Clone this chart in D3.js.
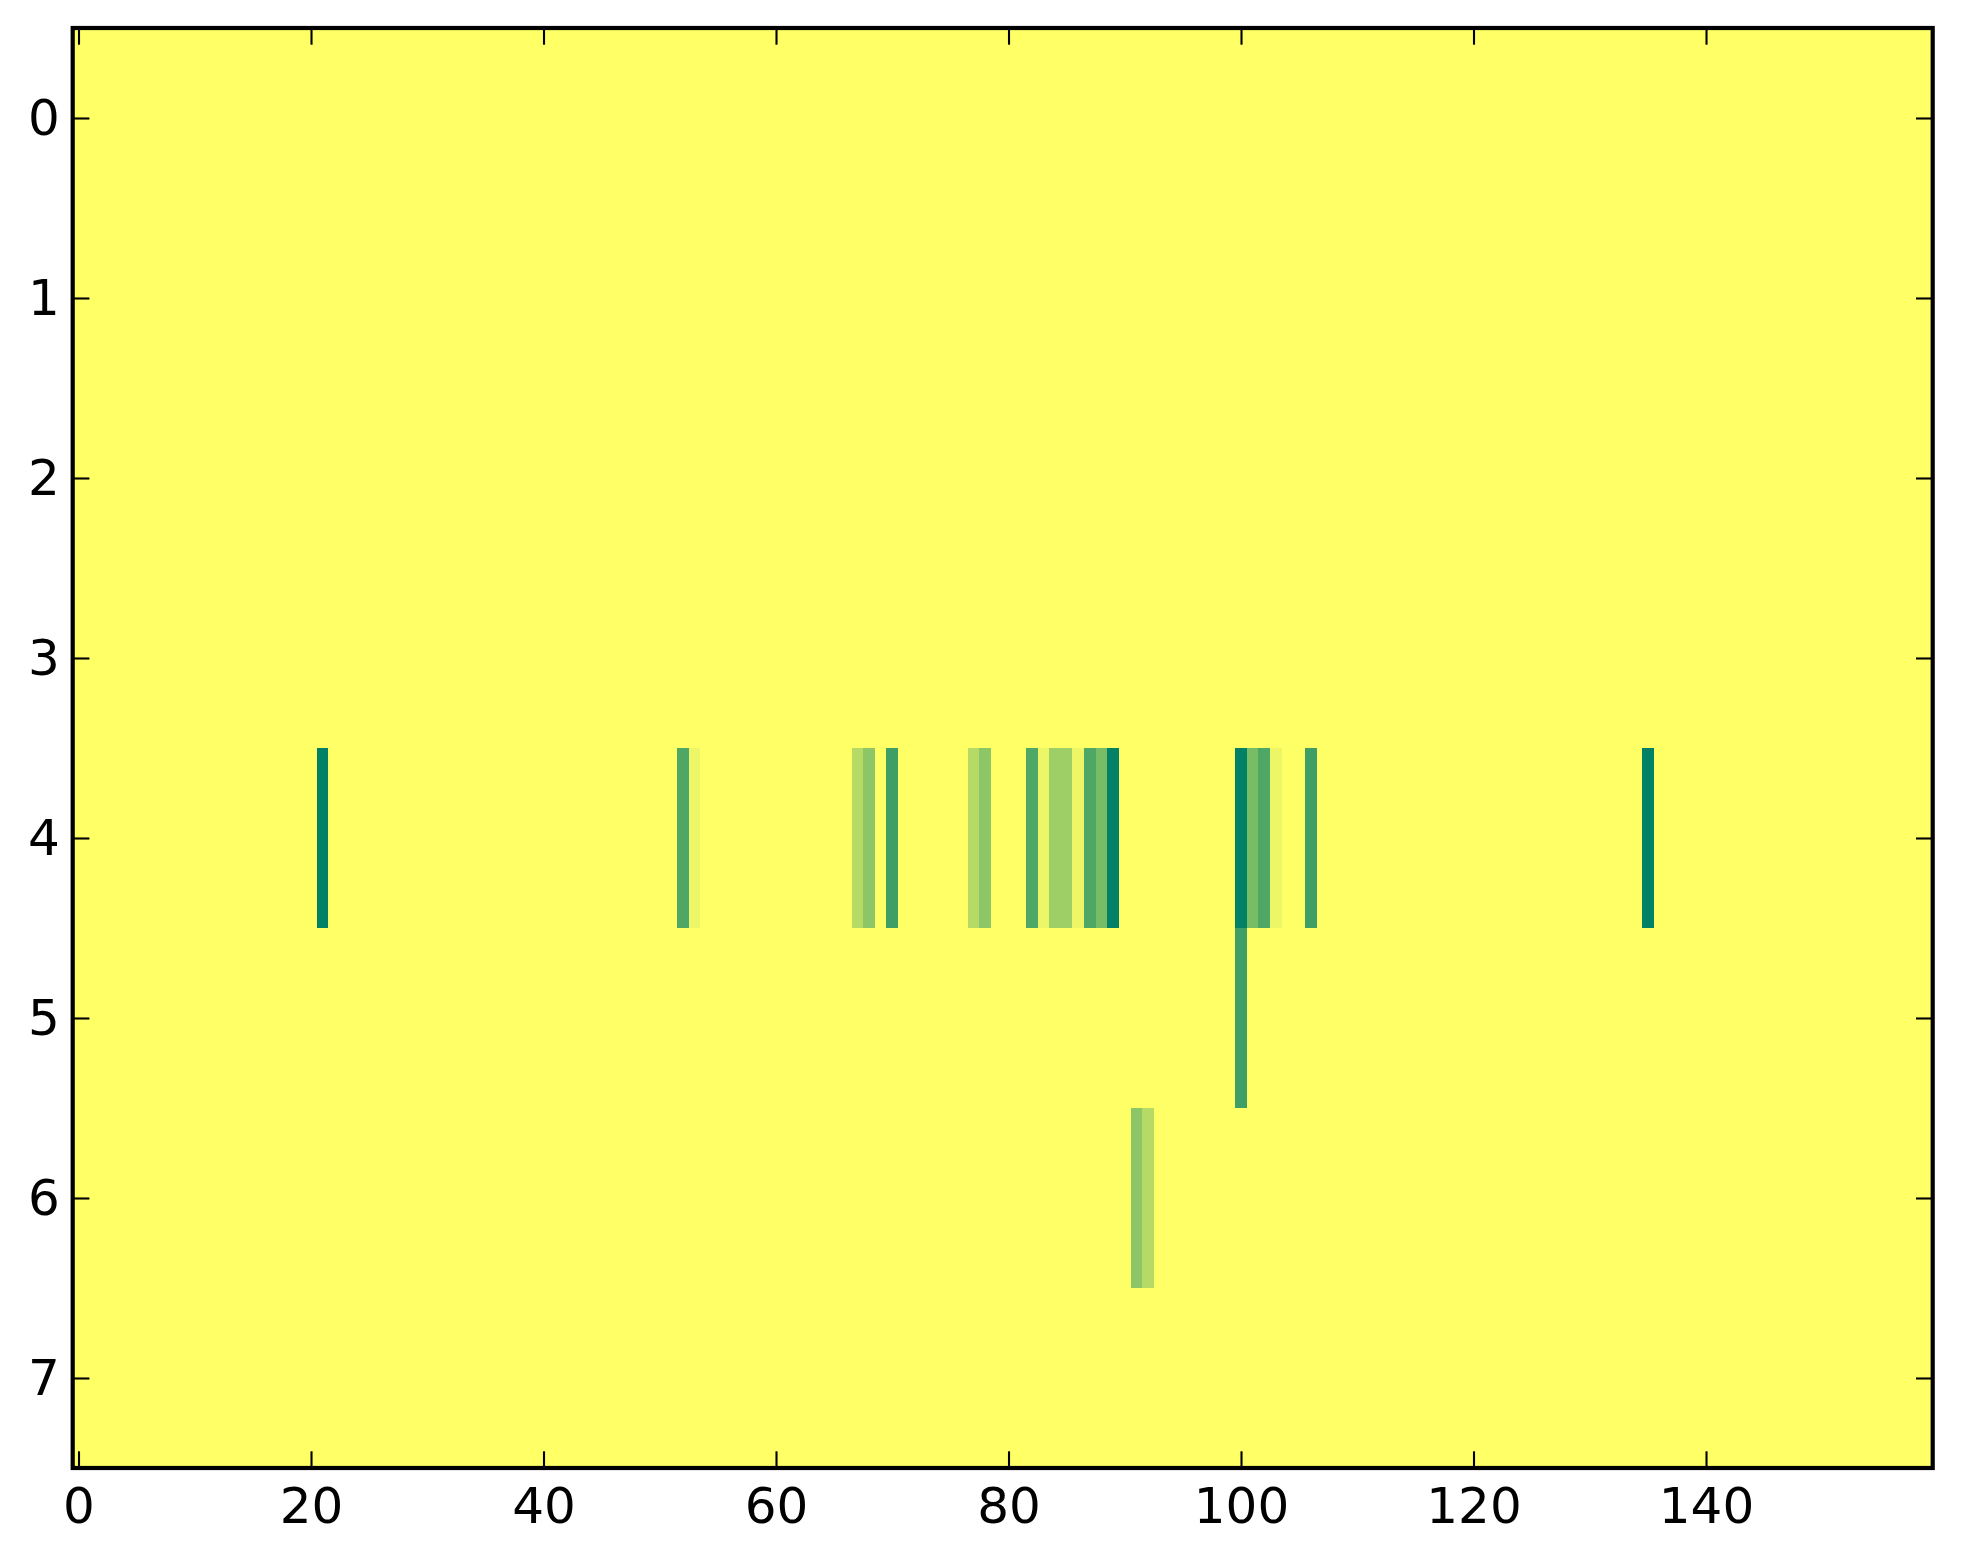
<!DOCTYPE html>
<html>
<head>
<meta charset="utf-8">
<script src="https://cdn.jsdelivr.net/npm/d3@7/dist/d3.min.js"></script>
<style>
body { margin: 0; background: #fff; }
#container text { font-family: "DejaVu Sans", sans-serif; }
</style>
</head>
<body>
<div id="container"></div>
<script>
// grid size (rows x columns), image style heatmap
var rowCount = 8;
var colCount = 160;
var fillValue = 1.0;   // most of the cells sit at the top of the scale

// the cells that are not at fillValue
var cellRows   = [4, 4, 4, 4, 4, 4, 4, 4, 4, 4, 4, 4, 4, 4, 4, 4, 4, 4, 4, 4, 4, 4, 5, 6, 6];
var cellCols   = [21, 52, 53, 67, 68, 70, 77, 78, 82, 83, 84, 85, 86, 87, 88, 89, 100, 101, 102, 103, 106, 135, 100, 91, 92];
var cellValues = [0.0, 0.31, 0.93, 0.71, 0.55, 0.24, 0.71, 0.55, 0.31, 0.93, 0.62, 0.62, 0.93, 0.31, 0.47, 0.01, 0.01, 0.47, 0.31, 0.93, 0.24, 0.01, 0.24, 0.55, 0.71];

var xTicks = [0, 20, 40, 60, 80, 100, 120, 140];
var yTicks = [0, 1, 2, 3, 4, 5, 6, 7];

var W = 1963, H = 1564;
var plotLeft = 72.7, plotTop = 28, plotW = 1860, plotH = 1440;
var tickLen = 16.7;

function buildGrid() {
  var cells = [];
  var idx = {};
  for (var k = 0; k < cellRows.length; k++) {
    idx[cellRows[k] + "_" + cellCols[k]] = cellValues[k];
  }
  for (var r = 0; r < rowCount; r++) {
    for (var c = 0; c < colCount; c++) {
      var key = r + "_" + c;
      cells.push({row: r, col: c, value: (key in idx) ? idx[key] : fillValue});
    }
  }
  return cells;
}

function draw() {
  var svg = d3.select("#container").append("svg")
    .attr("width", W).attr("height", H)
    .attr("viewBox", "0 0 " + W + " " + H);

  var x = d3.scaleLinear().domain([-0.5, colCount - 0.5]).range([plotLeft, plotLeft + plotW]);
  var y = d3.scaleLinear().domain([-0.5, rowCount - 0.5]).range([plotTop, plotTop + plotH]);
  // matplotlib "summer": straight line in rgb from green to yellow
  var color = d3.scaleLinear().domain([0, 1]).range(["#008066", "#ffff66"]).interpolate(d3.interpolateRgb);

  var cells = buildGrid();
  svg.append("g").selectAll("rect").data(cells).enter().append("rect")
    .attr("x", function (d) { return x(d.col - 0.5); })
    .attr("y", function (d) { return y(d.row - 0.5); })
    .attr("width", function (d) { return x(d.col + 0.5) - x(d.col - 0.5) + 0.3; })
    .attr("height", function (d) { return y(d.row + 0.5) - y(d.row - 0.5) + 0.3; })
    .attr("fill", function (d) { return color(d.value); })
    .attr("shape-rendering", "crispEdges");

  var bottomAx = d3.axisBottom(x).tickValues(xTicks).tickSizeInner(-tickLen).tickSizeOuter(0).tickPadding(19);
  var topAx = d3.axisTop(x).tickValues(xTicks).tickSizeInner(-tickLen).tickSizeOuter(0).tickFormat("");
  var leftAx = d3.axisLeft(y).tickValues(yTicks).tickSizeInner(-tickLen).tickSizeOuter(0).tickPadding(13);
  var rightAx = d3.axisRight(y).tickValues(yTicks).tickSizeInner(-tickLen).tickSizeOuter(0).tickFormat("");

  var axes = [
    [bottomAx, "translate(0," + (plotTop + plotH) + ")"],
    [topAx, "translate(0," + plotTop + ")"],
    [leftAx, "translate(" + plotLeft + ",0)"],
    [rightAx, "translate(" + (plotLeft + plotW) + ",0)"]
  ];
  axes.forEach(function (a) {
    var g = svg.append("g").attr("transform", a[1]).call(a[0]);
    g.select(".domain").remove();
    g.selectAll(".tick line").attr("stroke", "#000").attr("stroke-width", 2.1);
    g.selectAll(".tick text").attr("fill", "#000").style("font-size", "50px");
  });

  // frame
  svg.append("rect")
    .attr("x", plotLeft).attr("y", plotTop)
    .attr("width", plotW).attr("height", plotH)
    .attr("fill", "none").attr("stroke", "#000").attr("stroke-width", 4.2);
}

draw();
</script>
</body>
</html>
